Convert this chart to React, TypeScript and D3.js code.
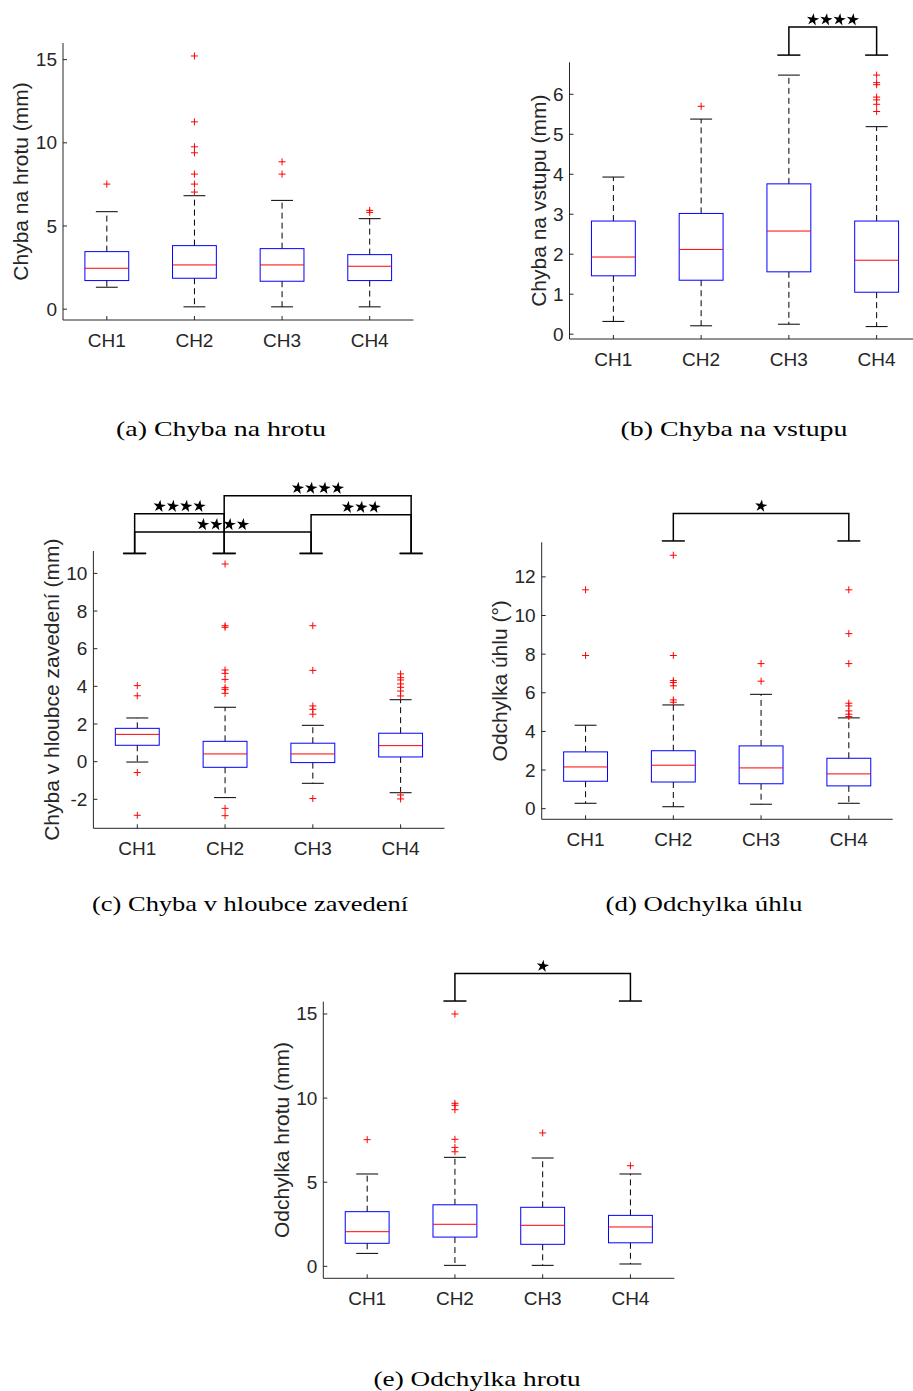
import React from "react";
import * as d3 from "d3";

const categories = ["CH1", "CH2", "CH3", "CH4"];

// Panel (a) Chyba na hrotu
const aQ1 = [1.72, 1.86, 1.68, 1.72];
const aMedian = [2.46, 2.66, 2.66, 2.58];
const aQ3 = [3.46, 3.82, 3.64, 3.28];
const aLow = [1.32, 0.14, 0.14, 0.14];
const aHigh = [5.86, 6.82, 6.54, 5.44];
const aOutliers = [[7.52], [15.22, 11.26, 9.76, 9.4, 8.12, 7.52, 7.04], [8.86, 8.12], [5.94, 5.82]];
const aTicks = [0, 5, 10, 15];

// Panel (b) Chyba na vstupu
const bQ1 = [1.46, 1.35, 1.56, 1.05];
const bMedian = [1.93, 2.12, 2.58, 1.85];
const bQ3 = [2.83, 3.02, 3.76, 2.83];
const bLow = [0.32, 0.21, 0.25, 0.19];
const bHigh = [3.93, 5.38, 6.48, 5.19];
const bOutliers = [[], [5.7], [], [6.48, 6.29, 6.24, 5.93, 5.86, 5.75, 5.57]];
const bTicks = [0, 1, 2, 3, 4, 5, 6];
const bSig = [{ from: 3, to: 4, level: 7.68, stars: 4 }];

// Panel (c) Chyba v hloubce zavedení
const cQ1 = [0.87, -0.3, -0.05, 0.25];
const cMedian = [1.45, 0.41, 0.41, 0.85];
const cQ3 = [1.77, 1.08, 0.98, 1.51];
const cLow = [-0.02, -1.91, -1.15, -1.65];
const cHigh = [2.32, 2.89, 1.93, 3.29];
const cOutliers = [
  [4.04, 3.5, -0.58, -2.85],
  [10.5, 7.22, 7.14, 4.87, 4.69, 4.37, 3.93, 3.84, 3.63, -2.48, -2.87],
  [7.22, 4.85, 2.96, 2.78, 2.52, -1.96],
  [4.66, 4.46, 4.34, 4.13, 3.95, 3.75, 3.49, -1.77, -1.98],
];
const cTicks = [-2, 0, 2, 4, 6, 8, 10];
const cSig = [
  { from: 0.97, to: 1.99, level: 13.17, stars: 4 },
  { from: 0.97, to: 2.98, level: 12.2, stars: 4 },
  { from: 1.99, to: 4.12, level: 14.13, stars: 4 },
  { from: 2.98, to: 4.12, level: 13.12, stars: 3 },
];

// Panel (d) Odchylka úhlu
const dQ1 = [1.42, 1.38, 1.29, 1.18];
const dMedian = [2.16, 2.25, 2.11, 1.8];
const dQ3 = [2.94, 3.0, 3.25, 2.61];
const dLow = [0.28, 0.1, 0.23, 0.28];
const dHigh = [4.32, 5.37, 5.92, 4.7];
const dOutliers = [
  [11.33, 7.93],
  [13.12, 7.93, 6.63, 6.53, 6.36, 5.63, 5.51],
  [7.51, 6.6],
  [11.33, 9.06, 7.51, 5.46, 5.32, 5.06, 4.89, 4.77],
];
const dTicks = [0, 2, 4, 6, 8, 10, 12];
const dSig = [{ from: 2, to: 4, level: 15.28, stars: 1 }];

// Panel (e) Odchylka hrotu
const eQ1 = [1.37, 1.74, 1.31, 1.4];
const eMedian = [2.06, 2.5, 2.44, 2.34];
const eQ3 = [3.25, 3.66, 3.51, 3.03];
const eLow = [0.77, 0.06, 0.06, 0.14];
const eHigh = [5.49, 6.48, 6.44, 5.49];
const eOutliers = [[7.53], [15, 9.69, 9.57, 9.31, 7.55, 7.07, 6.81], [7.93], [5.98]];
const eTicks = [0, 5, 10, 15];
const eSig = [{ from: 2, to: 4, level: 17.4, stars: 1 }];

const AX = "#262626";
const SANS = "'Liberation Sans', Arial, Helvetica, sans-serif";
const SERIF = "'Liberation Serif', 'Times New Roman', serif";

type Sig = { from: number; to: number; level: number; stars: number };

function Panel(props: {
  left: number; top: number; right: number; bottom: number;
  domain: [number, number];
  ticks: number[];
  q1: number[]; med: number[]; q3: number[]; lo: number[]; hi: number[]; out: number[][];
  ylabel: string; ylabelX: number;
  sig?: Sig[]; capValue?: number;
  caption: string; captionX: number; captionY: number; captionLen: number;
}) {
  const { left, top, right, bottom, domain } = props;
  const x = d3.scaleLinear().domain([0.5, 4.5]).range([left, right]);
  const y = d3.scaleLinear().domain(domain).range([bottom, top]);
  const unit = x(2) - x(1);
  const bw = unit * 0.5;
  const cw = bw * 0.5;
  const star = d3.symbol().type(d3.symbolStar).size(48)();
  const bracketCap = 23;
  return (
    <g>
      <line x1={left} x2={left} y1={top} y2={bottom} stroke={AX} strokeWidth={1} />
      <line x1={left} x2={right} y1={bottom} y2={bottom} stroke={AX} strokeWidth={1} />
      {props.ticks.map((t) => (
        <g key={"yt" + t}>
          <line x1={left} x2={left + 4} y1={y(t)} y2={y(t)} stroke={AX} />
          <text x={left - 6} y={y(t)} textAnchor="end" dominantBaseline="central"
            fontFamily={SANS} fontSize={19} fill={AX}>{t}</text>
        </g>
      ))}
      {categories.map((c, i) => (
        <g key={"xt" + c}>
          <line x1={x(i + 1)} x2={x(i + 1)} y1={bottom} y2={bottom - 4} stroke={AX} />
          <text x={x(i + 1)} y={bottom + 20} textAnchor="middle" dominantBaseline="central"
            fontFamily={SANS} fontSize={19} fill={AX}>{c}</text>
        </g>
      ))}
      <text transform={`translate(${props.ylabelX},${(top + bottom) / 2}) rotate(-90)`}
        textAnchor="middle" dominantBaseline="central" fontFamily={SANS} fontSize={21} fill={AX}>
        {props.ylabel}
      </text>
      {categories.map((c, i) => {
        const cx = x(i + 1);
        return (
          <g key={"box" + c}>
            <line x1={cx} x2={cx} y1={y(props.q3[i])} y2={y(props.hi[i])} stroke="#000" strokeDasharray="6,4" />
            <line x1={cx} x2={cx} y1={y(props.q1[i])} y2={y(props.lo[i])} stroke="#000" strokeDasharray="6,4" />
            <line x1={cx - cw / 2} x2={cx + cw / 2} y1={y(props.hi[i])} y2={y(props.hi[i])} stroke="#000" />
            <line x1={cx - cw / 2} x2={cx + cw / 2} y1={y(props.lo[i])} y2={y(props.lo[i])} stroke="#000" />
            <rect x={cx - bw / 2} y={y(props.q3[i])} width={bw} height={y(props.q1[i]) - y(props.q3[i])}
              fill="none" stroke="#0000ff" strokeWidth={1} />
            <line x1={cx - bw / 2} x2={cx + bw / 2} y1={y(props.med[i])} y2={y(props.med[i])} stroke="#ff0000" />
            {props.out[i].map((v, j) => (
              <path key={j} d={`M${cx - 3.5},${y(v)}H${cx + 3.5}M${cx},${y(v) - 3.5}V${y(v) + 3.5}`}
                stroke="#ff0000" strokeWidth={1} />
            ))}
          </g>
        );
      })}
      {(props.sig || []).map((s, k) => {
        const x1 = x(s.from), x2 = x(s.to);
        const yc = y(props.capValue as number), yl = y(s.level);
        const mid = (x1 + x2) / 2;
        return (
          <g key={"sig" + k}>
            <path d={`M${x1},${yc}V${yl}H${x2}V${yc}`} fill="none" stroke="#000" strokeWidth={1.5} />
            <line x1={x1 - bracketCap / 2} x2={x1 + bracketCap / 2} y1={yc} y2={yc} stroke="#000" strokeWidth={1.5} />
            <line x1={x2 - bracketCap / 2} x2={x2 + bracketCap / 2} y1={yc} y2={yc} stroke="#000" strokeWidth={1.5} />
            {d3.range(s.stars).map((j) => (
              <path key={j} d={star as string}
                transform={`translate(${mid + (j - (s.stars - 1) / 2) * 13.3},${yl - 7.5}) rotate(8)`} fill="#000" />
            ))}
          </g>
        );
      })}
      <text x={props.captionX} y={props.captionY} textAnchor="middle" fontFamily={SERIF} fontSize={21}
        fill="#000" textLength={props.captionLen} lengthAdjust="spacingAndGlyphs">{props.caption}</text>
    </g>
  );
}

export default function App() {
  return (
    <svg width={913} height={1391} style={{ position: "absolute", left: 0, top: 0, background: "#fff" }}>
      <rect width={913} height={1391} fill="#fff" />
      <Panel left={63} top={43} right={413.5} bottom={320} domain={[-0.65, 16.0]} ticks={aTicks}
        q1={aQ1} med={aMedian} q3={aQ3} lo={aLow} hi={aHigh} out={aOutliers}
        ylabel="Chyba na hrotu (mm)" ylabelX={20}
        caption="(a) Chyba na hrotu" captionX={221} captionY={436} captionLen={210} />
      <Panel left={569.5} top={62.3} right={920.5} bottom={339} domain={[-0.12, 6.8]} ticks={bTicks}
        q1={bQ1} med={bMedian} q3={bQ3} lo={bLow} hi={bHigh} out={bOutliers}
        ylabel="Chyba na vstupu (mm)" ylabelX={538}
        sig={bSig} capValue={6.98}
        caption="(b) Chyba na vstupu" captionX={734} captionY={436} captionLen={227} />
      <Panel left={93.4} top={551} right={444.5} bottom={828.3} domain={[-3.54, 11.19]} ticks={cTicks}
        q1={cQ1} med={cMedian} q3={cQ3} lo={cLow} hi={cHigh} out={cOutliers}
        ylabel="Chyba v hloubce zavedení (mm)" ylabelX={51.7}
        sig={cSig} capValue={11.06}
        caption="(c) Chyba v hloubce zavedení" captionX={250} captionY={911} captionLen={316} />
      <Panel left={541.7} top={542.3} right={892.7} bottom={819.3} domain={[-0.55, 13.79]} ticks={dTicks}
        q1={dQ1} med={dMedian} q3={dQ3} lo={dLow} hi={dHigh} out={dOutliers}
        ylabel="Odchylka úhlu (°)" ylabelX={499}
        sig={dSig} capValue={13.86}
        caption="(d) Odchylka úhlu" captionX={704} captionY={911} captionLen={197} />
      <Panel left={323.3} top={1001.7} right={674.3} bottom={1278.3} domain={[-0.71, 15.73]} ticks={eTicks}
        q1={eQ1} med={eMedian} q3={eQ3} lo={eLow} hi={eHigh} out={eOutliers}
        ylabel="Odchylka hrotu (mm)" ylabelX={281}
        sig={eSig} capValue={15.77}
        caption="(e) Odchylka hrotu" captionX={477} captionY={1386} captionLen={207} />
    </svg>
  );
}
